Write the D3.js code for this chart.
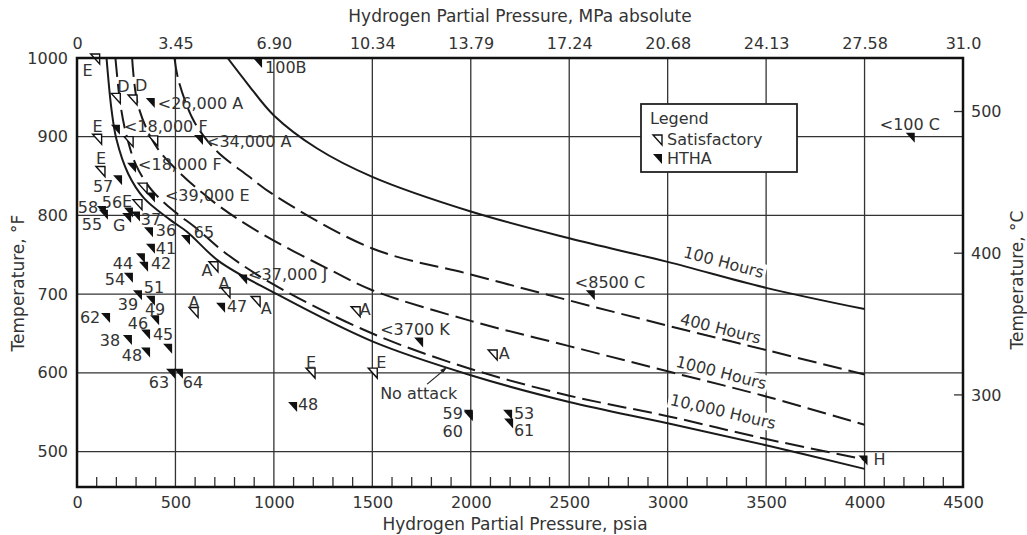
<!DOCTYPE html>
<html>
<head>
<meta charset="utf-8">
<title>Hydrogen attack chart</title>
<script src="https://d3js.org/d3.v7.min.js"></script>
<style>
    body{ margin:0; background:#fff; }
    text{ font-family:"DejaVu Sans", sans-serif; fill:#333; }
</style>
</head>
<body>
<svg id="chart" width="1027" height="535"></svg>
<script>
// ---------- data ----------
var psiTicks = [0, 500, 1000, 1500, 2000, 2500, 3000, 3500, 4000, 4500];
var mpaLabels = ["0", "3.45", "6.90", "10.34", "13.79", "17.24", "20.68", "24.13", "27.58", "31.0"];
var tempFTicks = [500, 600, 700, 800, 900, 1000];
var tempCTicks = [300, 400, 500];

// curves (psia, deg F)
var h100P = [765, 870, 1000, 1220, 1500, 2000, 2500, 3000, 3500, 4000];
var h100T = [1000, 966, 927, 885, 849, 805, 771, 741, 708, 681];
var h400P = [495, 515, 583, 640, 717, 870, 1000, 1500, 2000, 2500, 3000, 3500, 4000];
var h400T = [1000, 972, 925, 902, 880, 850, 826, 758, 725, 692, 660, 629, 598];
var h1000P = [280, 310, 396, 498, 700, 930, 1300, 1500, 2000, 2500, 3000, 3500, 4000];
var h1000T = [1000, 940, 890, 860, 816, 778, 729, 705, 666, 634, 602, 570, 534];
var h10000P = [195, 220, 250, 300, 380, 500, 600, 750, 1000, 1500, 2000, 2500, 3000, 3500, 4000];
var h10000T = [1000, 942, 903, 864, 832, 804, 785, 753, 712, 650, 605, 571, 545, 516, 490];
var noAttackP = [150, 175, 200, 260, 340, 470, 560, 720, 1000, 1500, 2000, 2500, 3000, 3500, 4000];
var noAttackT = [1000, 935, 897, 853, 822, 795, 779, 742, 702, 640, 597, 563, 536, 508, 478];

// experience points: S = satisfactory, H = HTHA
var markerP = [115, 220, 305, 395, 125, 218, 285, 410, 640, 142, 300, 229, 356, 396, 330, 284, 147, 157, 275, 320,
               386, 574, 396, 345, 361, 284, 330, 396, 417, 371, 483, 279, 371, 168, 498, 538, 716, 777, 864, 615,
               752, 930, 1438, 1209, 1525, 1118, 1758, 2134, 2010, 2010, 2210, 2215, 2630, 4015, 4255, 940];
var markerT = [1000, 950, 948, 944, 898, 910, 895, 896, 897, 857, 862, 846, 836, 824, 815, 805, 807, 802, 798, 800,
               780, 770, 759, 747, 736, 722, 700, 693, 668, 650, 632, 643, 627, 671, 600, 600, 736, 703, 720, 678,
               684, 692, 679, 601, 601, 558, 640, 624, 548, 546, 548, 537, 700, 490, 900, 995];
var markerKind = ["S","S","S","H","S","H","S","S","H","S","H","H","S","H","S","H","H","H","H","H",
                  "H","H","H","H","H","H","H","H","H","H","H","H","H","H","H","H","S","S","H","S",
                  "H","S","S","S","S","H","H","S","H","H","H","H","H","H","H","H"];
var markerText = ["E","D","D","<26,000 A","E","<18,000 F","","","<34,000 A","E","<18,000 F","57","","<39,000 E","E","56","58","55","G","37",
                  "36","65","41","44","42","54","51","39","49","46","45","38","48","62","63","64","A","A","<37,000 J","A",
                  "47","A","A","E","E","48","<3700 K","A","59","60","53","61","<8500 C","H","<100 C","100B"];

// ---------- layout ----------
var labelDx = [-12, 3, 4, 3, -4, 4, 0, 0, 3, -4, 2, -19, 0, 10, -15, -21, -18, -16, -12, 11,
               13, 14, 11, -22, 13, -18, 12, -27, -4, -12, -9, -22, -18, -20, -16, 10, -11, -6, 1, -4,
               12, 6, 5, -4, 4, 11, -43, 7, -20, -20, 12, 11, -20, 12, -35, 3];
var labelDy = [12, -11, -13, 1, -12, -2, 0, 0, 2, -12, -2, 7, 0, -1, -2, -9, -2, 11, 8, 4,
               -1, -7, 1, 6, -2, 3, -7, 5, -10, -10, -13, 1, 4, 1, 10, 10, 5, -8, -4, -9,
               0, 8, -1, -10, -10, -1, -12, 0, 0, 16, 0, 8, -12, 0, -12, 6];

var svg = d3.select("#chart");
var pLeft = 77, pRight = 963, pTop = 58, pBottom = 487;

var x = d3.scaleLinear().domain([0, 4500]).range([pLeft, pRight]);
var y = d3.scaleLinear().domain([455, 1000]).range([pBottom, pTop]);
var yC = d3.scaleLinear().domain([(455 - 32) / 1.8, (1000 - 32) / 1.8]).range([pBottom, pTop]);

// ---------- grid ----------
var grid = svg.append("g").attr("stroke", "#333").attr("stroke-width", 1.3);
grid.selectAll(".vg").data(psiTicks.slice(1, -1)).enter().append("line")
    .attr("x1", function(d){ return x(d); }).attr("x2", function(d){ return x(d); })
    .attr("y1", pTop).attr("y2", pBottom);
grid.selectAll(".hg").data(tempFTicks.slice(0, -1)).enter().append("line")
    .attr("x1", pLeft).attr("x2", pRight)
    .attr("y1", function(d){ return y(d); }).attr("y2", function(d){ return y(d); });

// minor ticks along bottom
var minor = d3.range(100, 4500, 100).filter(function(d){ return d % 500 !== 0; });
grid.selectAll(".mt").data(minor).enter().append("line")
    .attr("x1", function(d){ return x(d); }).attr("x2", function(d){ return x(d); })
    .attr("y1", pBottom).attr("y2", pBottom - 10);

// celsius ticks on right border
grid.selectAll(".ct").data(tempCTicks).enter().append("line")
    .attr("x1", pRight).attr("x2", pRight - 9)
    .attr("y1", function(d){ return yC(d); }).attr("y2", function(d){ return yC(d); });

// ---------- curves ----------
var clip = svg.append("clipPath").attr("id", "plotclip");
clip.append("rect").attr("x", pLeft).attr("y", pTop).attr("width", pRight - pLeft).attr("height", pBottom - pTop);

var line = d3.line()
    .x(function(d){ return x(d[0]); })
    .y(function(d){ return y(d[1]); })
    .curve(d3.curveCatmullRom.alpha(0.5));

function pairs(P, T){ return P.map(function(p, i){ return [p, T[i]]; }); }

var curves = [
    {p: h100P, t: h100T, dash: null},
    {p: h400P, t: h400T, dash: "19,7"},
    {p: h1000P, t: h1000T, dash: "19,7"},
    {p: h10000P, t: h10000T, dash: "19,7"},
    {p: noAttackP, t: noAttackT, dash: null}
];
var cg = svg.append("g").attr("clip-path", "url(#plotclip)");
curves.forEach(function(c){
    cg.append("path")
        .attr("d", line(pairs(c.p, c.t)))
        .attr("fill", "none")
        .attr("stroke", "#1a1a1a")
        .attr("stroke-width", 2)
        .attr("stroke-dasharray", c.dash);
});

// curve labels, on a white patch like the printed chart
function interp(P, T, p){
    for (var i = 0; i < P.length - 1; i++){
        if (p >= P[i] && p <= P[i + 1]) return T[i] + (T[i + 1] - T[i]) * (p - P[i]) / (P[i + 1] - P[i]);
    }
    return T[T.length - 1];
}
var hoursText = ["100 Hours", "400 Hours", "1000 Hours", "10,000 Hours"];
var hoursAt = [3267, 3257, 3257, 3262];
var hoursLift = [14, 10, 12, 17];
hoursText.forEach(function(t, i){
    var c = curves[i];
    var ang = Math.atan2(y(interp(c.p, c.t, 3500)) - y(interp(c.p, c.t, 3000)), x(3500) - x(3000)) * 180 / Math.PI;
    var px = x(hoursAt[i]), py = y(interp(c.p, c.t, hoursAt[i]));
    var g = svg.append("g")
        .attr("transform", "translate(" + px + "," + py + ") rotate(" + ang + ") translate(0," + (-hoursLift[i]) + ")");
    var bg = g.append("rect").attr("fill", "#fff");
    var tx = g.append("text")
        .attr("text-anchor", "middle")
        .attr("dominant-baseline", "central")
        .attr("font-size", 16)
        .text(t);
    var bb = tx.node().getBBox();
    bg.attr("x", bb.x - 2).attr("y", bb.y + 1).attr("width", bb.width + 4).attr("height", bb.height - 2);
});

// "No attack" label with arrow
var tipP = 1880, tipT = interp(noAttackP, noAttackT, 1880);
svg.append("line")
    .attr("x1", x(tipP) - 20).attr("y1", y(tipT) + 17)
    .attr("x2", x(tipP) - 2).attr("y2", y(tipT) + 2)
    .attr("stroke", "#222").attr("stroke-width", 1.2);
svg.append("path")
    .attr("d", "M" + x(tipP) + "," + y(tipT) + " l-7,3 l3,3 z")
    .attr("fill", "#222");
svg.append("text").attr("x", x(tipP) - 67).attr("y", y(tipT) + 26)
    .attr("dominant-baseline", "central").attr("font-size", 16).text("No attack");

// ---------- legend ----------
var lg = svg.append("g");
lg.append("rect").attr("x", 641).attr("y", 104).attr("width", 156).attr("height", 68)
    .attr("fill", "#fff").attr("stroke", "#222").attr("stroke-width", 1.8);
lg.append("text").attr("x", 650).attr("y", 118).attr("dominant-baseline", "central").attr("font-size", 16).text("Legend");
lg.append("text").attr("x", 667).attr("y", 139).attr("dominant-baseline", "central").attr("font-size", 16).text("Satisfactory");
lg.append("text").attr("x", 667).attr("y", 158).attr("dominant-baseline", "central").attr("font-size", 16).text("HTHA");

function tri(px, py){
    return "M" + (px - 9) + "," + (py - 4) + " L" + px + "," + (py - 4) + " L" + px + "," + (py + 6) + " Z";
}
lg.append("path").attr("d", tri(662, 139)).attr("fill", "#fff").attr("stroke", "#111").attr("stroke-width", 1.4);
lg.append("path").attr("d", tri(662, 158)).attr("fill", "#111");

// ---------- markers ----------
var mk = svg.append("g");
markerP.forEach(function(p, i){
    var px = x(p), py = y(markerT[i]);
    if (markerKind[i] === "S"){
        mk.append("path").attr("d", tri(px, py)).attr("fill", "#fff").attr("stroke", "#111").attr("stroke-width", 1.4);
    } else {
        mk.append("path").attr("d", tri(px, py)).attr("fill", "#111");
    }
    if (markerText[i] !== ""){
        var isLong = markerText[i].length > 4;
        mk.append("text")
            .attr("x", px + labelDx[i]).attr("y", py + labelDy[i])
            .attr("text-anchor", isLong || markerText[i] === "100B" ? "start" : "middle")
            .attr("dominant-baseline", "central")
            .attr("font-size", 16)
            .text(markerText[i]);
    }
});

// ---------- axes ----------
var axB = svg.append("g").attr("transform", "translate(0," + pBottom + ")")
    .call(d3.axisBottom(x).tickValues(psiTicks).tickSize(0).tickPadding(10).tickFormat(d3.format("d")));
var axT = svg.append("g").attr("transform", "translate(0," + pTop + ")")
    .call(d3.axisTop(x).tickValues(psiTicks).tickSize(0).tickPadding(9)
        .tickFormat(function(d, i){ return mpaLabels[i]; }));
var axL = svg.append("g").attr("transform", "translate(" + pLeft + ",0)")
    .call(d3.axisLeft(y).tickValues(tempFTicks).tickSize(0).tickPadding(9).tickFormat(d3.format("d")));
var axR = svg.append("g").attr("transform", "translate(" + pRight + ",0)")
    .call(d3.axisRight(yC).tickValues(tempCTicks).tickSize(0).tickPadding(8));
[axB, axT, axL, axR].forEach(function(a){
    a.select(".domain").remove();
    a.selectAll("text").attr("font-size", 16).attr("font-family", "DejaVu Sans").attr("fill", "#333");
});

// border
svg.append("rect").attr("x", pLeft).attr("y", pTop).attr("width", pRight - pLeft).attr("height", pBottom - pTop)
    .attr("fill", "none").attr("stroke", "#111").attr("stroke-width", 2.5);

// titles
svg.append("text").attr("x", 520).attr("y", 16).attr("text-anchor", "middle").attr("dominant-baseline", "central")
    .attr("font-size", 17).text("Hydrogen Partial Pressure, MPa absolute");
svg.append("text").attr("x", 515).attr("y", 524).attr("text-anchor", "middle").attr("dominant-baseline", "central")
    .attr("font-size", 17).text("Hydrogen Partial Pressure, psia");
svg.append("text").attr("transform", "translate(18,283) rotate(-90)").attr("text-anchor", "middle")
    .attr("dominant-baseline", "central").attr("font-size", 17).text("Temperature, °F");
svg.append("text").attr("transform", "translate(1017,280) rotate(-90)").attr("text-anchor", "middle")
    .attr("dominant-baseline", "central").attr("font-size", 17).text("Temperature, °C");
</script>
</body>
</html>
